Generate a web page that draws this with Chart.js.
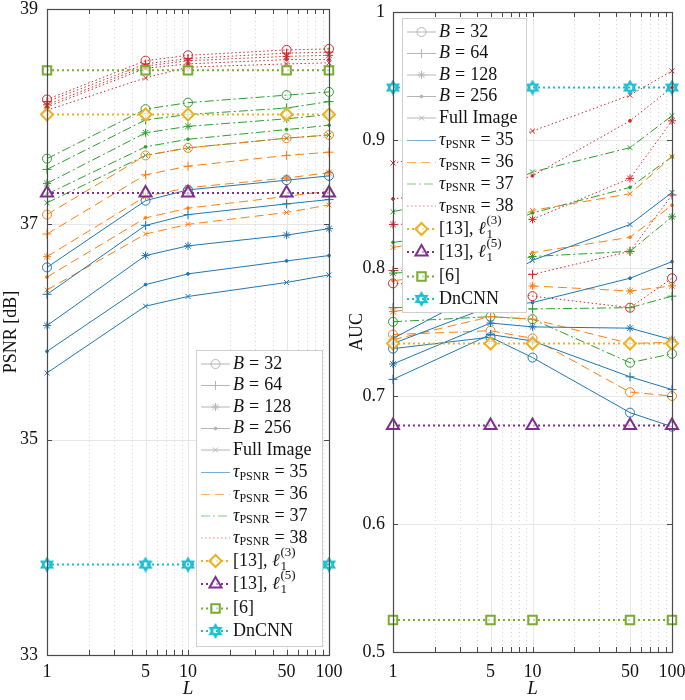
<!DOCTYPE html>
<html>
<head>
<meta charset="utf-8">
<script src="https://cdn.jsdelivr.net/npm/chart.js@4.4.1/dist/chart.umd.min.js"></script>
<style>
  html, body { margin: 0; padding: 0; background: #fff; }
  #wrap { position: relative; width: 685px; height: 700px; }
  .panel { position: absolute; top: 0; height: 700px; }
  #left { left: 0; width: 352px; z-index: 2; }
  #right { left: 340px; width: 345px; z-index: 1; }
</style>
</head>
<body>
<div id="wrap">
  <div class="panel" id="left"><canvas id="psnrChart"></canvas></div>
  <div class="panel" id="right"><canvas id="aucChart"></canvas></div>
</div>
<script>
// number of observations L (log axis)
const L = [1, 5, 10, 50, 100];
const xGridTicks = [1, 2, 3, 4, 5, 6, 7, 8, 9, 10, 20, 30, 40, 50, 60, 70, 80, 90, 100];
const xTickLabels = [1, 5, 10, 50, 100];
const psnrTicks = [33, 35, 37, 39];
const aucTicks = [0.5, 0.6, 0.7, 0.8, 0.9, 1];

const blockSizes = ['32', '64', '128', '256', 'Full Image'];
const tauLevels = ['35', '36', '37', '38'];

// PSNR [dB], rows: B = 32, 64, 128, 256, full image
const psnrTau35 = [
  [36.60, 37.22, 37.32, 37.41, 37.45],
  [36.35, 36.99, 37.09, 37.19, 37.23],
  [36.06, 36.71, 36.80, 36.90, 36.96],
  [35.82, 36.44, 36.54, 36.66, 36.71],
  [35.62, 36.24, 36.33, 36.46, 36.53]
];
const psnrTau36 = [
  [37.09, 37.64, 37.71, 37.80, 37.83],
  [36.91, 37.46, 37.54, 37.64, 37.67],
  [36.70, 37.26, 37.34, 37.43, 37.48],
  [36.51, 37.06, 37.15, 37.26, 37.31],
  [36.39, 36.91, 37.00, 37.11, 37.18]
];
const psnrTau37 = [
  [37.61, 38.07, 38.13, 38.20, 38.23],
  [37.51, 37.97, 38.02, 38.08, 38.14],
  [37.38, 37.85, 37.91, 37.98, 38.02],
  [37.28, 37.72, 37.79, 37.88, 37.92],
  [37.20, 37.64, 37.71, 37.80, 37.83]
];
const psnrTau38 = [
  [38.16, 38.52, 38.57, 38.62, 38.63],
  [38.14, 38.49, 38.54, 38.59, 38.60],
  [38.11, 38.47, 38.52, 38.56, 38.57],
  [38.09, 38.45, 38.49, 38.53, 38.53],
  [38.06, 38.36, 38.46, 38.49, 38.50]
];
const psnrRef13a = [38.02, 38.02, 38.02, 38.02, 38.02];
const psnrRef13b = [37.29, 37.29, 37.29, 37.29, 37.29];
const psnrRef6 = [38.43, 38.43, 38.43, 38.43, 38.43];
const psnrDnCNN = [33.84, 33.84, 33.84, 33.84, 33.84];

// AUC, same row order
const aucTau35 = [
  [0.737, 0.746, 0.730, 0.687, 0.676],
  [0.713, 0.748, 0.743, 0.715, 0.705],
  [0.725, 0.757, 0.754, 0.753, 0.744],
  [0.741, 0.770, 0.773, 0.792, 0.805],
  [0.745, 0.785, 0.806, 0.834, 0.859]
];
const aucTau36 = [
  [0.748, 0.751, 0.745, 0.703, 0.700],
  [0.744, 0.762, 0.760, 0.741, 0.742],
  [0.766, 0.775, 0.786, 0.782, 0.786],
  [0.790, 0.800, 0.812, 0.824, 0.849],
  [0.816, 0.830, 0.845, 0.858, 0.887]
];
const aucTau37 = [
  [0.758, 0.762, 0.760, 0.726, 0.733],
  [0.769, 0.770, 0.768, 0.769, 0.778],
  [0.796, 0.800, 0.809, 0.813, 0.840],
  [0.820, 0.830, 0.843, 0.863, 0.887],
  [0.844, 0.860, 0.875, 0.894, 0.919]
];
const aucTau38 = [
  [0.788, 0.785, 0.778, 0.769, 0.792],
  [0.798, 0.797, 0.795, 0.813, 0.857],
  [0.834, 0.836, 0.838, 0.870, 0.915],
  [0.854, 0.862, 0.872, 0.915, 0.941],
  [0.882, 0.895, 0.907, 0.935, 0.954]
];
const aucRef13a = [0.741, 0.741, 0.741, 0.741, 0.741];
const aucRef13b = [0.677, 0.677, 0.677, 0.677, 0.677];
const aucRef6 = [0.525, 0.525, 0.525, 0.525, 0.525];
const aucDnCNN = [0.941, 0.941, 0.941, 0.941, 0.941];

const serif = '"Liberation Serif", "DejaVu Serif", serif';
const tauColors = ['#1f77b4', '#ff7f0e', '#2ca02c', '#d62728'];
const tauDash = [[], [9, 5], [9, 3, 2, 3], [1.5, 2.5]];
const blockMarkers = [
  { style: 'circle', r: 4.5, fill: false },
  { style: 'cross', r: 4.5, fill: false },
  { style: 'star', r: 4, fill: false },
  { style: 'circle', r: 1.4, fill: true },
  { style: 'crossRot', r: 3.5, fill: false }
];

function hexagram(color) {
  const c = document.createElement('canvas');
  c.width = 16; c.height = 16;
  const g = c.getContext('2d');
  g.strokeStyle = color;
  g.lineWidth = 1.8;
  [-Math.PI / 2, Math.PI / 2].forEach(a0 => {
    g.beginPath();
    for (let k = 0; k < 3; k++) {
      const a = a0 + k * 2 * Math.PI / 3;
      const px = 8 + 6.3 * Math.cos(a), py = 8 + 6.3 * Math.sin(a);
      if (k) g.lineTo(px, py); else g.moveTo(px, py);
    }
    g.closePath();
    g.stroke();
  });
  return c;
}
const hexMarker = hexagram('#17becf');

const refStyles = [
  { color: '#EDB120', style: 'rectRot', r: 6, fill: 'rgba(255,255,255,0.7)' },
  { color: '#7E2F8E', style: 'triangle', r: 7, fill: 'rgba(255,255,255,0.6)' },
  { color: '#77AC30', style: 'rect', r: 6, fill: 'rgba(255,255,255,0.6)' },
  { color: '#17becf', style: hexMarker, r: 7, fill: 'transparent' }
];

function points(vals) {
  return vals.map((v, i) => ({ x: L[i], y: v }));
}

function buildDatasets(tauSets, refs) {
  const sets = [];
  refs.forEach((vals, k) => {
    const s = refStyles[k];
    sets.push({
      data: points(vals),
      borderColor: s.color,
      borderWidth: 2,
      borderDash: [2, 3],
      pointStyle: s.style,
      pointRadius: s.r,
      pointBorderColor: s.color,
      pointBackgroundColor: s.fill,
      pointBorderWidth: 2,
      clip: false
    });
  });
  tauSets.forEach((rows, t) => {
    rows.forEach((vals, b) => {
      const m = blockMarkers[b];
      sets.push({
        data: points(vals),
        borderColor: tauColors[t],
        borderWidth: 1,
        borderDash: tauDash[t],
        pointStyle: m.style,
        pointRadius: m.r,
        pointBorderColor: tauColors[t],
        pointBackgroundColor: m.fill ? tauColors[t] : 'transparent',
        pointBorderWidth: 1,
        clip: false
      });
    });
  });
  return sets;
}

// MATLAB-like box: grid under the data, frame and inward ticks on top
const axisBox = {
  id: 'axisBox',
  beforeDatasetsDraw(chart) {
    const { ctx, chartArea: a, scales: { x, y } } = chart;
    ctx.save();
    ctx.lineWidth = 1;
    ctx.strokeStyle = '#d4d4d4';
    ctx.setLineDash([1, 3]);
    xGridTicks.forEach(v => {
      if (xTickLabels.includes(v)) return;
      const px = Math.round(x.getPixelForValue(v)) + 0.5;
      ctx.beginPath(); ctx.moveTo(px, a.top); ctx.lineTo(px, a.bottom); ctx.stroke();
    });
    ctx.setLineDash([]);
    ctx.strokeStyle = '#e6e6e6';
    xTickLabels.forEach(v => {
      const px = Math.round(x.getPixelForValue(v)) + 0.5;
      ctx.beginPath(); ctx.moveTo(px, a.top); ctx.lineTo(px, a.bottom); ctx.stroke();
    });
    y.ticks.forEach(t => {
      const py = Math.round(y.getPixelForValue(t.value)) + 0.5;
      ctx.beginPath(); ctx.moveTo(a.left, py); ctx.lineTo(a.right, py); ctx.stroke();
    });
    ctx.restore();
  },
  afterDatasetsDraw(chart) {
    const { ctx, chartArea: a, scales: { x, y } } = chart;
    ctx.save();
    ctx.strokeStyle = '#4a4a4a';
    ctx.lineWidth = 1;
    xGridTicks.forEach(v => {
      const px = Math.round(x.getPixelForValue(v)) + 0.5;
      ctx.beginPath();
      ctx.moveTo(px, a.bottom); ctx.lineTo(px, a.bottom - 5);
      ctx.moveTo(px, a.top); ctx.lineTo(px, a.top + 5);
      ctx.stroke();
    });
    y.ticks.forEach(t => {
      const py = Math.round(y.getPixelForValue(t.value)) + 0.5;
      ctx.beginPath();
      ctx.moveTo(a.left, py); ctx.lineTo(a.left + 5, py);
      ctx.moveTo(a.right, py); ctx.lineTo(a.right - 5, py);
      ctx.stroke();
    });
    ctx.lineWidth = 1.2;
    ctx.strokeRect(Math.round(a.left) + 0.5, Math.round(a.top) + 0.5,
      Math.round(a.right - a.left), Math.round(a.bottom - a.top));
    ctx.restore();
  }
};

// legend rows: text pieces and sample style
const legendRows = [];
blockSizes.forEach((b, i) => legendRows.push({
  kind: 'block', idx: i,
  text: i < 4 ? [{ t: 'B', it: true }, { gap: 5 }, { t: '=' }, { gap: 5 }, { t: b }] : [{ t: b }]
}));
tauLevels.forEach((v, i) => legendRows.push({
  kind: 'tau', idx: i,
  text: [{ t: 'τ', it: true }, { t: 'PSNR', size: 12, dy: 4 }, { gap: 5 }, { t: '=' }, { gap: 5 }, { t: v }]
}));
legendRows.push({ kind: 'ref', idx: 0, text: [{ t: '[13], ' }, { t: 'ℓ', it: true }, { sub: '1', sup: '(3)' }] });
legendRows.push({ kind: 'ref', idx: 1, text: [{ t: '[13], ' }, { t: 'ℓ', it: true }, { sub: '1', sup: '(5)' }] });
legendRows.push({ kind: 'ref', idx: 2, text: [{ t: '[6]' }] });
legendRows.push({ kind: 'ref', idx: 3, text: [{ t: 'DnCNN' }] });
const legendRowY = [14, 35.5, 57, 78.5, 100, 122.5, 144.5, 166, 188, 211, 234, 258.5, 281];

function drawRich(ctx, parts, x, y) {
  parts.forEach(p => {
    if (p.gap) { x += p.gap; return; }
    if (p.sub) {
      ctx.font = `13px ${serif}`;
      ctx.fillText(p.sub, x + 1, y + 6);
      ctx.fillText(p.sup, x + 1, y - 8);
      x += Math.max(ctx.measureText(p.sub).width, ctx.measureText(p.sup).width) + 1;
      return;
    }
    ctx.font = `${p.it ? 'italic ' : ''}${p.size || 18}px ${serif}`;
    ctx.fillText(p.t, x, y + (p.dy || 0));
    x += ctx.measureText(p.t).width;
  });
}

const richLegend = {
  id: 'richLegend',
  afterDraw(chart, args, opts) {
    const { ctx } = chart;
    const { left, top, width, height } = opts;
    ctx.save();
    ctx.fillStyle = '#fff';
    ctx.fillRect(left, top, width, height);
    ctx.strokeStyle = '#cfcfcf';
    ctx.lineWidth = 1;
    ctx.strokeRect(left + 0.5, top + 0.5, width, height);
    legendRows.forEach((row, i) => {
      const y = top + legendRowY[i];
      let color, dash, lw, marker;
      if (row.kind === 'block') {
        color = '#b5b5b5'; dash = []; lw = 1;
        const m = blockMarkers[row.idx];
        marker = { pointStyle: m.style, radius: m.r, fill: m.fill ? color : 'transparent', bw: 1 };
      } else if (row.kind === 'tau') {
        color = tauColors[row.idx]; dash = tauDash[row.idx]; lw = 1; marker = null;
        ctx.globalAlpha = 0.6;
      } else {
        const s = refStyles[row.idx];
        color = s.color; dash = [2, 3]; lw = 2;
        marker = { pointStyle: s.style, radius: s.r, fill: s.fill, bw: 2 };
      }
      ctx.strokeStyle = color;
      ctx.lineWidth = lw;
      ctx.setLineDash(dash);
      ctx.beginPath();
      ctx.moveTo(left + 5, y); ctx.lineTo(left + 34, y);
      ctx.stroke();
      ctx.setLineDash([]);
      ctx.globalAlpha = 1;
      if (marker) {
        ctx.fillStyle = marker.fill;
        ctx.lineWidth = marker.bw;
        Chart.helpers.drawPoint(ctx, { pointStyle: marker.pointStyle, radius: marker.radius, rotation: 0, borderWidth: marker.bw }, left + 19.5, y);
      }
      ctx.fillStyle = '#111';
      ctx.textBaseline = 'middle';
      ctx.textAlign = 'left';
      drawRich(ctx, row.text, left + 37, y);
    });
    ctx.restore();
  }
};

function makeChart(id, datasets, cfg) {
  const tickFont = { family: serif, size: 18 };
  new Chart(document.getElementById(id), {
    type: 'line',
    data: { datasets },
    plugins: [axisBox, richLegend],
    options: {
      responsive: true,
      maintainAspectRatio: false,
      animation: false,
      elements: { line: { tension: 0 } },
      layout: { padding: cfg.padding },
      scales: {
        x: {
          type: 'logarithmic', min: 1, max: 100,
          afterBuildTicks: s => { s.ticks = xGridTicks.map(v => ({ value: v })); },
          afterFit: s => { s.height = cfg.xHeight; s.paddingLeft = 0; s.paddingRight = 0; },
          grid: { display: false, drawTicks: false },
          border: { display: false },
          ticks: {
            autoSkip: false, maxRotation: 0, padding: cfg.xPad, color: '#111', font: tickFont,
            callback: v => (xTickLabels.includes(v) ? String(v) : '')
          },
          title: { display: true, text: 'L', color: '#111', padding: { top: 0, bottom: 0 }, font: { family: serif, size: 19, style: 'italic' } }
        },
        y: {
          type: 'linear', min: cfg.yMin, max: cfg.yMax,
          afterBuildTicks: s => { s.ticks = cfg.yTicks.map(v => ({ value: v })); },
          afterFit: s => { s.width = cfg.yWidth; s.paddingTop = 0; s.paddingBottom = 0; },
          grid: { display: false, drawTicks: false },
          border: { display: false },
          ticks: { padding: cfg.yPad, color: '#111', font: tickFont, callback: v => String(Math.round(v * 10) / 10) },
          title: { display: true, text: cfg.yTitle, color: '#111', padding: { top: cfg.titlePad, bottom: 0 }, font: { family: serif, size: 18 } }
        }
      },
      plugins: {
        legend: { display: false },
        tooltip: { enabled: false },
        richLegend: cfg.legend
      }
    }
  });
}

makeChart('psnrChart',
  buildDatasets([psnrTau35, psnrTau36, psnrTau37, psnrTau38], [psnrRef13a, psnrRef13b, psnrRef6, psnrDnCNN]),
  {
    padding: { top: 7, right: 23, bottom: 0, left: 0 },
    xHeight: 45, xPad: 6, yWidth: 47, yPad: 9, titlePad: 0,
    yMin: 33, yMax: 39, yTicks: psnrTicks, yTitle: 'PSNR [dB]',
    legend: { left: 196, top: 350, width: 126, height: 296 }
  });

makeChart('aucChart',
  buildDatasets([aucTau35, aucTau36, aucTau37, aucTau38], [aucRef13a, aucRef13b, aucRef6, aucDnCNN]),
  {
    padding: { top: 12, right: 13, bottom: 0, left: 0 },
    xHeight: 48, xPad: 9, yWidth: 53, yPad: 8, titlePad: 6,
    yMin: 0.5, yMax: 1, yTicks: aucTicks, yTitle: 'AUC',
    legend: { left: 62, top: 18, width: 124, height: 294 }
  });
</script>
</body>
</html>
